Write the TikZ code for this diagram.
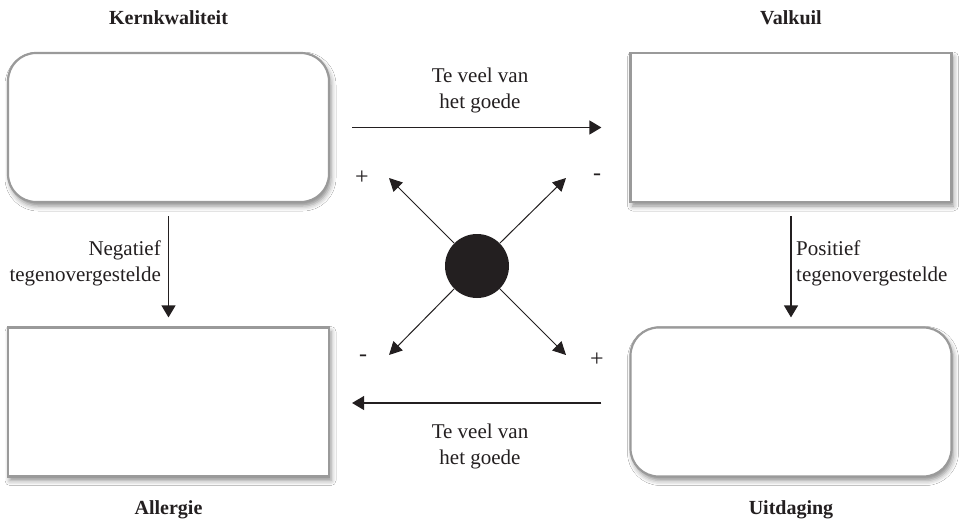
\documentclass[tikz,border=0pt]{standalone}
\usepackage{fontspec}
\setmainfont{Liberation Serif}
\usetikzlibrary{arrows.meta,shadows.blur}
\definecolor{ink}{HTML}{231F20}
\definecolor{boxline}{HTML}{9A9A9A}
\begin{document}
\begin{tikzpicture}[x=1pt,y=-1pt,
  box/.style={draw=boxline, line width=2.2pt, fill=white, minimum width=321pt, minimum height=149pt, inner sep=0pt,
    blur shadow={shadow xshift=2pt, shadow yshift=-4pt, shadow blur radius=5pt, shadow opacity=45}},
  rbox/.style={box, rounded corners=28pt},
  txt/.style={font=\fontsize{21}{26}\selectfont, text=ink, inner sep=0pt},
  sgn/.style={font=\fontsize{24}{26}\selectfont, text=ink, inner sep=0pt},
  ttl/.style={font=\fontsize{20}{24}\selectfont\bfseries, text=ink, inner sep=0pt, anchor=base},
  arr/.style={draw=ink, line width=1.2pt, -{Triangle[length=12pt,width=14pt]}},
  darr/.style={draw=ink, line width=1pt, -{Triangle[length=13pt,width=13pt]}}
]
\useasboundingbox (0,0) rectangle (964,522);
\fill[white] (0,0) rectangle (964,522);

\node[rbox] (kk) at (168.5,127.5) {};
\node[box]  (vk) at (791,127.5) {};
\node[box]  (al) at (168.5,402) {};
\node[rbox] (ui) at (791,402) {};

\node[ttl] (tkk) at (168.5,24) {Kernkwaliteit};
\node[ttl] (tvk) at (791,24) {Valkuil};
\node[ttl] (tal) at (168.5,514) {Allergie};
\node[ttl] (tui) at (791,514) {Uitdaging};

% horizontal connectors
\draw[arr] ([xshift=22pt]kk.east) -- ([xshift=-28pt]vk.west);
\draw[arr] ([xshift=-28pt,yshift=-1pt]ui.west) -- ([xshift=22pt,yshift=-1pt]al.east);
\node[txt, align=center] (l1) at (480,90) {Te veel van\\het goede};
\node[txt, align=center] (l2) at (480,446) {Te veel van\\het goede};

% vertical connectors
\draw[arr] ([yshift=-13pt]kk.south) -- ([yshift=9pt]al.north);
\draw[arr] ([yshift=-13pt]vk.south) -- ([yshift=9pt]ui.north);
\node[txt, align=right, anchor=east] (l3) at (161,263) {Negatief\\tegenovergestelde};
\node[txt, align=left, anchor=west] (l4) at (796,263) {Positief\\tegenovergestelde};

% centre
\node[circle, fill=ink, minimum size=64pt, inner sep=0pt] (c) at (477,266) {};
\coordinate (ul) at (389,178);
\coordinate (ur) at (566,178);
\coordinate (ll) at (389,355);
\coordinate (lr) at (566,355);
\draw[darr] (c.135) -- (ul);
\draw[darr] (c.45) -- (ur);
\draw[darr] (c.225) -- (ll);
\draw[darr] (c.315) -- (lr);
\node[sgn] (s1) at (362,178) {+};
\node[sgn] (s2) at (597,177) {-};
\node[sgn] (s3) at (363,358) {-};
\node[sgn] (s4) at (597,360) {+};
\end{tikzpicture}
\end{document}
